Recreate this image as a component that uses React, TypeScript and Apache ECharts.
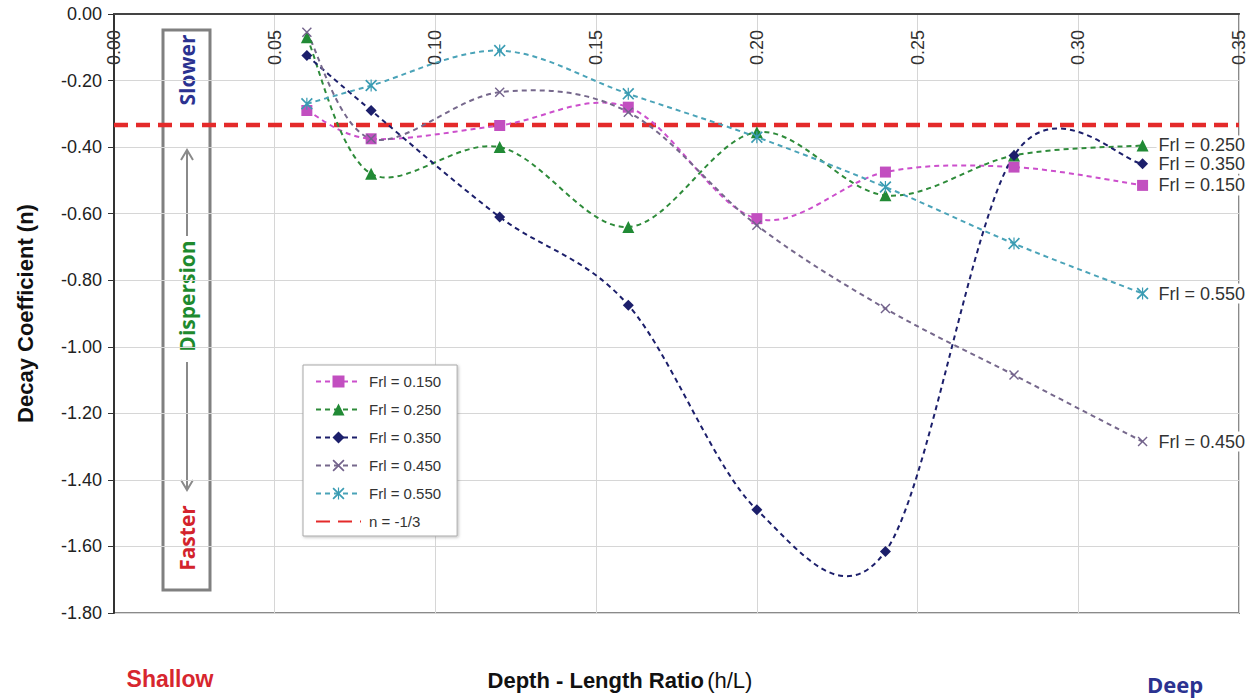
import React, { useEffect, useRef } from "react";
import * as echarts from "echarts";

const xValues = [0.06, 0.08, 0.12, 0.16, 0.2, 0.24, 0.28, 0.32];
const frl150 = [-0.29, -0.375, -0.335, -0.28, -0.615, -0.475, -0.46, -0.515];
const frl250 = [-0.07, -0.48, -0.4, -0.64, -0.355, -0.545, -0.425, -0.395];
const frl350 = [-0.125, -0.29, -0.61, -0.875, -1.49, -1.615, -0.425, -0.45];
const frl450 = [-0.055, -0.375, -0.235, -0.295, -0.635, -0.885, -1.085, -1.285];
const frl550 = [-0.27, -0.215, -0.11, -0.24, -0.37, -0.52, -0.69, -0.84];
const nLine = -1 / 3;
const xTicks = { min: 0, max: 0.35, interval: 0.05 };
const yTicks = { min: -1.8, max: 0, interval: 0.2 };

const X_PATH =
  "path://M0,2 L2,0 L10,8 L18,0 L20,2 L12,10 L20,18 L18,20 L10,12 L2,20 L0,18 L8,10 Z";
const STAR_PATH =
  "path://M0,2 L2,0 L10,8 L18,0 L20,2 L12,10 L20,18 L18,20 L10,12 L2,20 L0,18 L8,10 Z M9,0 L11,0 L11,20 L9,20 Z";

const seriesDefs = [
  { name: "Frl = 0.150", data: frl150, color: "#c24fc0", line: "#cc4fcc", symbol: "rect", size: 11 },
  { name: "Frl = 0.250", data: frl250, color: "#218a35", line: "#2e8b3a", symbol: "triangle", size: 12 },
  { name: "Frl = 0.350", data: frl350, color: "#1c1f6b", line: "#1c1f6b", symbol: "diamond", size: 11 },
  { name: "Frl = 0.450", data: frl450, color: "#73638c", line: "#76688c", symbol: X_PATH, size: 10 },
  { name: "Frl = 0.550", data: frl550, color: "#3a9cb3", line: "#4aa3b8", symbol: STAR_PATH, size: 12 },
];

function splinePath(pts: number[][]): string {
  const n = pts.length;
  let d = `M${pts[0][0]},${pts[0][1]}`;
  for (let i = 0; i < n - 1; i++) {
    const p0 = pts[Math.max(i - 1, 0)];
    const p1 = pts[i];
    const p2 = pts[i + 1];
    const p3 = pts[Math.min(i + 2, n - 1)];
    const c1x = p1[0] + (p2[0] - p0[0]) / 6;
    const c1y = p1[1] + (p2[1] - p0[1]) / 6;
    const c2x = p2[0] - (p3[0] - p1[0]) / 6;
    const c2y = p2[1] - (p3[1] - p1[1]) / 6;
    d += ` C${c1x},${c1y} ${c2x},${c2y} ${p2[0]},${p2[1]}`;
  }
  return d;
}

export default function App() {
  const ref = useRef<HTMLDivElement>(null);
  useEffect(() => {
    if (!ref.current) return;
    const chart = echarts.init(ref.current, undefined, { renderer: "svg" });
    const markerSeries = seriesDefs.map((s) => ({
      name: s.name,
      type: "line",
      data: xValues.map((x, i) => [x, s.data[i]]),
      symbol: s.symbol,
      symbolSize: s.size,
      itemStyle: { color: s.color },
      lineStyle: { color: s.line, width: 2, type: [5, 4], opacity: 0 },
      z: 4,
      endLabel: {
        show: true,
        formatter: s.name,
        fontFamily: "Liberation Sans, Arial, sans-serif",
        fontSize: 18,
        color: "#333",
        backgroundColor: "#fff",
        padding: [1, 2],
        distance: 14,
      },
    }));
    const curveSeries = seriesDefs.map((s) => ({
      name: s.name + " curve",
      type: "custom",
      silent: true,
      z: 3,
      data: xValues.map((x, i) => [x, s.data[i]]),
      renderItem: (params: any, api: any) => {
        if (params.dataIndex !== 0) return null;
        const pts = xValues.map((x, i) => api.coord([x, s.data[i]]));
        return {
          type: "path",
          shape: { pathData: splinePath(pts) },
          style: {
            fill: "none",
            stroke: s.line,
            lineWidth: 2,
            lineDash: [5, 4],
          },
        };
      },
    }));
    const option = {
      animation: false,
      textStyle: { fontFamily: "Liberation Sans, Arial, sans-serif" },
      grid: {
        left: 114,
        right: 19,
        top: 14,
        bottom: 86,
        show: true,
        borderColor: "#8a8a8a",
        borderWidth: 2,
      },
      xAxis: {
        type: "value",
        position: "top",
        min: xTicks.min,
        max: xTicks.max,
        interval: xTicks.interval,
        axisLine: { show: true, lineStyle: { color: "#444", width: 2 } },
        axisTick: { show: false },
        axisLabel: {
          inside: true,
          rotate: 90,
          margin: 16,
          fontSize: 18,
          color: "#333",
          showMinLabel: true,
          showMaxLabel: true,
          formatter: (v: number) => v.toFixed(2),
        },
        splitLine: { show: true, lineStyle: { color: "#d6d6d6", width: 1 } },
      },
      yAxis: {
        type: "value",
        min: yTicks.min,
        max: yTicks.max,
        interval: yTicks.interval,
        name: "Decay Coefficient (n)",
        nameLocation: "middle",
        nameRotate: 90,
        nameGap: 78,
        nameTextStyle: { fontSize: 22, fontWeight: "bold", color: "#111" },
        axisLine: { show: true, lineStyle: { color: "#333", width: 2 } },
        axisTick: { show: true, length: 6, lineStyle: { color: "#333" } },
        axisLabel: {
          fontSize: 18,
          color: "#222",
          margin: 12,
          formatter: (v: number) => v.toFixed(2),
        },
        splitLine: { show: true, lineStyle: { color: "#d6d6d6", width: 1 } },
      },
      legend: {
        orient: "vertical",
        left: 303,
        top: 365,
        itemWidth: 45,
        itemHeight: 15,
        itemGap: 13,
        padding: [9, 16, 7, 12],
        borderColor: "#a8a8a8",
        borderWidth: 1,
        backgroundColor: "#fff",
        shadowColor: "rgba(0,0,0,0.25)",
        shadowBlur: 3,
        shadowOffsetX: 1,
        shadowOffsetY: 1,
        z: 20,
        textStyle: { fontSize: 15, color: "#333", padding: [0, 0, 0, 3] },
        data: [
          ...seriesDefs.map((s) => ({ name: s.name, lineStyle: { opacity: 1 } })),
          { name: "n = -1/3", itemStyle: { opacity: 0 } },
        ],
      },
      graphic: [
        {
          type: "group",
          z: 100,
          children: [
            {
              type: "rect",
              shape: { x: 163, y: 30, width: 47, height: 560 },
              style: { fill: "#fff", stroke: "#808080", lineWidth: 3 },
            },
            {
              type: "text",
              x: 187,
              y: 70,
              rotation: Math.PI / 2,
              style: {
                text: "Slower",
                fontFamily: "Open Sans, sans-serif",
                fontWeight: "bold",
                fontSize: 21,
                fill: "#2b3290",
                align: "center",
                verticalAlign: "middle",
              },
            },
            {
              type: "line",
              shape: { x1: 187, y1: 236, x2: 187, y2: 150 },
              style: { stroke: "#8a8a8a", lineWidth: 2 },
            },
            {
              type: "polyline",
              shape: { points: [[181, 160], [187, 150], [193, 160]] },
              style: { stroke: "#8a8a8a", lineWidth: 2, fill: "none" },
            },
            {
              type: "text",
              x: 187,
              y: 296,
              rotation: Math.PI / 2,
              style: {
                text: "Dispersion",
                fontFamily: "Open Sans, sans-serif",
                fontWeight: "bold",
                fontSize: 21,
                fill: "#1e8a2e",
                align: "center",
                verticalAlign: "middle",
              },
            },
            {
              type: "line",
              shape: { x1: 187, y1: 362, x2: 187, y2: 490 },
              style: { stroke: "#8a8a8a", lineWidth: 2 },
            },
            {
              type: "polyline",
              shape: { points: [[181, 480], [187, 490], [193, 480]] },
              style: { stroke: "#8a8a8a", lineWidth: 2, fill: "none" },
            },
            {
              type: "text",
              x: 187,
              y: 538,
              rotation: Math.PI / 2,
              style: {
                text: "Faster",
                fontFamily: "Open Sans, sans-serif",
                fontWeight: "bold",
                fontSize: 21,
                fill: "#d3232c",
                align: "center",
                verticalAlign: "middle",
              },
            },
          ],
        },
        {
          type: "text",
          x: 170,
          y: 679,
          style: {
            text: "Shallow",
            fontFamily: "Liberation Sans, Arial, sans-serif",
            fontWeight: "bold",
            fontSize: 23,
            fill: "#d7262e",
            align: "center",
            verticalAlign: "middle",
          },
        },
        {
          type: "text",
          x: 620,
          y: 680,
          style: {
            text: "{b|Depth - Length Ratio} {n|(h/L)}",
            align: "center",
            verticalAlign: "middle",
            rich: {
              b: {
                fontFamily: "Liberation Sans, Arial, sans-serif",
                fontWeight: "bold",
                fontSize: 22,
                fill: "#111",
              },
              n: {
                fontFamily: "Liberation Sans, Arial, sans-serif",
                fontSize: 22,
                fill: "#111",
              },
            },
          },
        },
        {
          type: "text",
          x: 1175,
          y: 684,
          style: {
            text: "Deep",
            fontFamily: "Open Sans, sans-serif",
            fontWeight: "bold",
            fontSize: 22,
            fill: "#2b3290",
            align: "center",
            verticalAlign: "middle",
          },
        },
      ],
      series: [
        ...curveSeries,
        ...markerSeries,
        {
          name: "n = -1/3",
          type: "line",
          data: [
            [xTicks.min, nLine],
            [xTicks.max, nLine],
          ],
          symbol: "none",
          itemStyle: { color: "#e42a2a" },
          lineStyle: { color: "#e42a2a", width: 4.5, type: [14, 8] },
          z: 2,
        },
      ],
    };
    chart.setOption(option as any);
    return () => chart.dispose();
  }, []);
  return (
    <div
      ref={ref}
      style={{ position: "absolute", left: 0, top: 0, width: 1258, height: 699 }}
    />
  );
}
